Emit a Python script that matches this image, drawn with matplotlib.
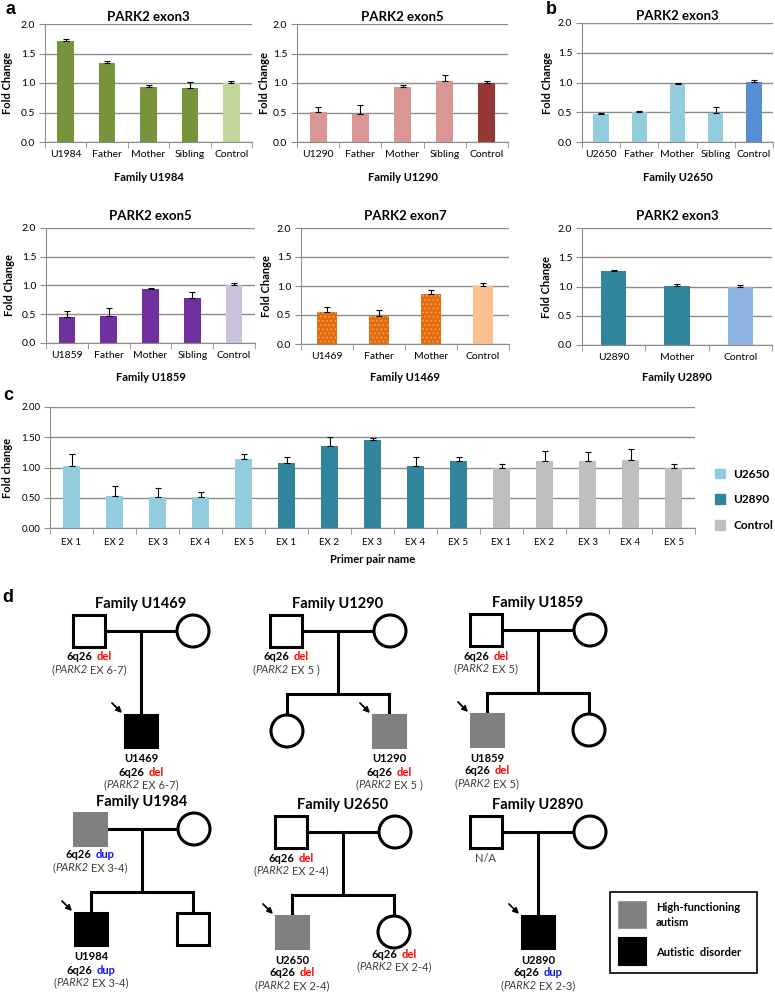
import numpy as np
import matplotlib
matplotlib.use('Agg')
import matplotlib.pyplot as plt
from matplotlib.patches import Rectangle, Circle, Patch
from matplotlib.offsetbox import TextArea, HPacker, AnnotationBbox
from matplotlib.ticker import FormatStrFormatter

plt.rcParams['font.family'] = ['Lato', 'DejaVu Sans']
plt.rcParams['hatch.linewidth'] = 0.6

# ---- data: qPCR fold change (bar value, upper error) ----
u1984_cats = ['U1984', 'Father', 'Mother', 'Sibling', 'Control']
u1984_vals = [1.71, 1.34, 0.93, 0.92, 1.00]
u1984_err = [0.03, 0.03, 0.03, 0.10, 0.04]

u1290_cats = ['U1290', 'Father', 'Mother', 'Sibling', 'Control']
u1290_vals = [0.51, 0.47, 0.94, 1.03, 1.00]
u1290_err = [0.09, 0.15, 0.02, 0.11, 0.04]

u2650_cats = ['U2650', 'Father', 'Mother', 'Sibling', 'Control']
u2650_vals = [0.47, 0.50, 0.97, 0.49, 1.01]
u2650_err = [0.02, 0.02, 0.02, 0.09, 0.04]

u1859_cats = ['U1859', 'Father', 'Mother', 'Sibling', 'Control']
u1859_vals = [0.46, 0.47, 0.94, 0.79, 1.01]
u1859_err = [0.09, 0.14, 0.02, 0.10, 0.03]

u1469_cats = ['U1469', 'Father', 'Mother', 'Control']
u1469_vals = [0.55, 0.49, 0.86, 1.00]
u1469_err = [0.08, 0.09, 0.07, 0.06]

u2890_cats = ['U2890', 'Mother', 'Control']
u2890_vals = [1.26, 1.01, 1.00]
u2890_err = [0.03, 0.03, 0.02]

# panel c: exons 1-5 for each sample
exon_labels = ['EX 1', 'EX 2', 'EX 3', 'EX 4', 'EX 5']
c_groups = ['U2650', 'U2890', 'Control']
c_u2650 = [1.02, 0.53, 0.52, 0.51, 1.14]
c_u2650_err = [0.20, 0.16, 0.14, 0.09, 0.09]
c_u2890 = [1.08, 1.35, 1.45, 1.02, 1.10]
c_u2890_err = [0.09, 0.16, 0.03, 0.16, 0.08]
c_ctrl = [1.00, 1.11, 1.10, 1.13, 1.00]
c_ctrl_err = [0.06, 0.17, 0.15, 0.17, 0.06]

# ---- figure in pixel units ----
W, H = 775, 992
fig = plt.figure(figsize=(W / 100, H / 100), dpi=100)
fig.patch.set_facecolor('white')

ax_d = fig.add_axes([0, 0, 1, 1])
ax_d.set_xlim(0, W)
ax_d.set_ylim(H, 0)
ax_d.axis('off')

GRID = '#8c8c8c'


def bar_panel(x0, x1, top, bottom, title, cats, vals, errs, colors, family,
              title_pad, ylab_x, xlab_y, hatch_n=0):
    ax = fig.add_axes([x0 / W, 1 - bottom / H, (x1 - x0) / W, (bottom - top) / H])
    x = np.arange(len(cats))
    ax.bar(x, vals, 0.4, color=colors, zorder=2)
    if hatch_n:
        ax.bar(x[:hatch_n], vals[:hatch_n], 0.4, facecolor='none',
               edgecolor='#f4a86e', hatch='....', lw=0, zorder=2)
    ax.errorbar(x, vals, yerr=[np.zeros(len(vals)), errs], fmt='none',
                ecolor='black', elinewidth=0.8, capsize=2.5, capthick=0.8, zorder=3)
    ax.set_xlim(-0.5, len(cats) - 0.5)
    ax.set_ylim(0, 2)
    ax.set_yticks(np.arange(0, 2.01, 0.5))
    ax.yaxis.set_major_formatter(FormatStrFormatter('%.1f'))
    ax.set_xticks(x)
    ax.set_xticklabels(cats)
    ax.set_xticks(np.arange(-0.5, len(cats)), minor=True)
    ax.tick_params(axis='x', which='major', length=0, labelsize=7.5, pad=6)
    ax.tick_params(axis='x', which='minor', length=4, color=GRID)
    ax.tick_params(axis='y', length=4, color=GRID, labelsize=7.5, pad=3)
    ax.grid(axis='y', color=GRID, lw=1.0)
    ax.set_axisbelow(True)
    for s in ('top', 'right'):
        ax.spines[s].set_visible(False)
    for s in ('left', 'bottom'):
        ax.spines[s].set_color(GRID)
    ax.set_title(title, fontsize=9.5, fontweight='bold', pad=title_pad)
    ax.set_ylabel('Fold Change', fontsize=8, fontweight='bold')
    ax.yaxis.set_label_coords((ylab_x - x0) / (x1 - x0), 0.5)
    ax.set_xlabel(family, fontsize=8, fontweight='bold')
    ax.xaxis.set_label_coords(0.5, -(xlab_y - bottom) / (bottom - top))
    return ax


def fam_colors(n, main, ctrl):
    return [main] * (n - 1) + [ctrl]


bar_panel(45, 252, 24, 142, 'PARK2 exon3', u1984_cats, u1984_vals, u1984_err,
          fam_colors(5, '#77933c', '#c3d69b'), 'Family U1984', 2.5, 13, 172)
bar_panel(297, 508, 24, 142, 'PARK2 exon5', u1290_cats, u1290_vals, u1290_err,
          fam_colors(5, '#d99694', '#953735'), 'Family U1290', 2.5, 270, 172)
bar_panel(582, 773, 23, 142, 'PARK2 exon3', u2650_cats, u2650_vals, u2650_err,
          fam_colors(5, '#93cddd', '#558ed5'), 'Family U2650', 2.5, 553, 172)
bar_panel(46, 255, 228, 343, 'PARK2 exon5', u1859_cats, u1859_vals, u1859_err,
          fam_colors(5, '#7030a0', '#ccc1da'), 'Family U1859', 6, 15, 372)
bar_panel(301, 509, 228, 344, 'PARK2 exon7', u1469_cats, u1469_vals, u1469_err,
          fam_colors(4, '#e46c0a', '#fac090'), 'Family U1469', 6, 272, 372, hatch_n=3)
bar_panel(582, 772, 228, 345, 'PARK2 exon3', u2890_cats, u2890_vals, u2890_err,
          fam_colors(3, '#31859c', '#8eb4e3'), 'Family U2890', 6, 552, 372)

# ---- panel c ----
x0, x1, top, bottom = 50, 695, 407, 528
ax_c = fig.add_axes([x0 / W, 1 - bottom / H, (x1 - x0) / W, (bottom - top) / H])
c_vals = [c_u2650, c_u2890, c_ctrl]
c_errs = [c_u2650_err, c_u2890_err, c_ctrl_err]
c_cols = ['#93cddd', '#31859c', '#bfbfbf']
for i in range(3):
    xi = np.arange(5) + 5 * i
    ax_c.bar(xi, c_vals[i], 0.4, color=c_cols[i], label=c_groups[i], zorder=2)
    ax_c.errorbar(xi, c_vals[i], yerr=[np.zeros(5), c_errs[i]], fmt='none',
                  ecolor='black', elinewidth=0.8, capsize=2.5, capthick=0.8, zorder=3)
ax_c.set_xlim(-0.5, 14.5)
ax_c.set_ylim(0, 2)
ax_c.set_yticks(np.arange(0, 2.01, 0.5))
ax_c.yaxis.set_major_formatter(FormatStrFormatter('%.2f'))
ax_c.set_xticks(np.arange(15))
ax_c.set_xticklabels(exon_labels * 3)
ax_c.set_xticks(np.arange(-0.5, 15), minor=True)
ax_c.tick_params(axis='x', which='major', length=0, labelsize=7, pad=7)
ax_c.tick_params(axis='x', which='minor', length=4, color=GRID)
ax_c.tick_params(axis='y', length=4, color=GRID, labelsize=7, pad=3)
ax_c.grid(axis='y', color=GRID, lw=1.0)
ax_c.set_axisbelow(True)
for s in ('top', 'right'):
    ax_c.spines[s].set_visible(False)
for s in ('left', 'bottom'):
    ax_c.spines[s].set_color(GRID)
ax_c.set_ylabel('Fold change', fontsize=8, fontweight='bold')
ax_c.yaxis.set_label_coords((13 - x0) / (x1 - x0), 0.5)
ax_c.set_xlabel('Primer pair name', fontsize=8, fontweight='bold')
ax_c.xaxis.set_label_coords(0.5, -(554 - bottom) / (bottom - top))
handles = [Patch(color=c) for c in c_cols]
fig.legend(handles, c_groups, loc='upper left', bbox_to_anchor=(704 / W, 1 - 458 / H),
           frameon=False, handlelength=0.9, handleheight=0.9, labelspacing=1.25,
           handletextpad=0.7, prop=dict(weight='bold', size=8.5))

# ---- panel letters ----
for lab, lx, ly in [('a', 11, 10), ('b', 551, 10), ('c', 8, 396), ('d', 8, 598)]:
    ax_d.text(lx, ly, lab, fontsize=13, fontweight='bold', ha='center', va='center',
              family='Liberation Sans')

# ---- panel d: pedigrees ----
LW = 2.2
RED, BLUE, TXT = '#ff0000', '#1010ff', '#404040'
FILL = {'u': 'white', 'hfa': '#808080', 'ad': 'black'}
FS = 8


def person(x, y, sex, status):
    edge = '#808080' if status == 'hfa' else 'black'
    if sex == 'm':
        p = Rectangle((x - 16, y - 16), 32, 32, fc=FILL[status], ec=edge, lw=LW, zorder=3)
    else:
        p = Circle((x, y), 16, fc=FILL[status], ec=edge, lw=LW, zorder=3)
    ax_d.add_patch(p)


def line(xs, ys):
    ax_d.plot(xs, ys, color='black', lw=LW, solid_capstyle='projecting', zorder=2)


def rich(x, y, groups, sep, size=FS):
    boxes = []
    for g in groups:
        tas = [TextArea(t, textprops=dict(color=c, fontweight=w, fontstyle=s, fontsize=size))
               for t, c, w, s in g]
        boxes.append(HPacker(children=tas, align='baseline', pad=0, sep=0))
    box = HPacker(children=boxes, align='baseline', pad=0, sep=sep)
    ax_d.add_artist(AnnotationBbox(box, (x, y), xycoords='data', frameon=False,
                                   box_alignment=(0.5, 0.5), pad=0))


def cnv_label(x, y, cnv):
    if cnv == 'N/A':
        ax_d.text(x, y, 'N/A', fontsize=FS, color=TXT, ha='center', va='center')
        return
    kind, exons = cnv
    rich(x, y, [[('6q26', 'black', 'bold', 'normal')],
                [(kind, RED if kind == 'del' else BLUE, 'bold', 'normal')]], sep=3.0)
    rich(x, y + 12.5, [[('(', TXT, 'normal', 'normal'), ('PARK2', TXT, 'normal', 'italic')],
                       [(exons + ')', TXT, 'normal', 'normal')]], sep=2.0)


# name, father x, parents y, father status, father CNV, children (sex, status, id, CNV)
pedigrees = [
    ('Family U1469', 89, 631, 'u', ('del', 'EX 6-7'),
     [('m', 'ad', 'U1469', ('del', 'EX 6-7'))]),
    ('Family U1290', 286, 631, 'u', ('del', 'EX 5 '),
     [('f', 'u', None, None), ('m', 'hfa', 'U1290', ('del', 'EX 5 '))]),
    ('Family U1859', 486, 630, 'u', ('del', 'EX 5'),
     [('m', 'hfa', 'U1859', ('del', 'EX 5')), ('f', 'u', None, None)]),
    ('Family U1984', 90, 829, 'hfa', ('dup', 'EX 3-4'),
     [('m', 'ad', 'U1984', ('dup', 'EX 3-4')), ('m', 'u', None, None)]),
    ('Family U2650', 291, 832, 'u', ('del', 'EX 2-4'),
     [('m', 'hfa', 'U2650', ('del', 'EX 2-4')), ('f', 'u', None, ('del', 'EX 2-4'))]),
    ('Family U2890', 486, 832, 'u', 'N/A',
     [('m', 'ad', 'U2890', ('dup', 'EX 2-3'))]),
]

for name, fx, py, fstat, fcnv, kids in pedigrees:
    mx, dx = fx + 104, fx + 52
    ax_d.text(dx, py - 27, name, fontsize=10.5, fontweight='bold', ha='center', va='center')
    person(fx, py, 'm', fstat)
    person(mx, py, 'f', 'u')
    line([fx + 16, mx - 16], [py, py])
    cnv_label(fx, py + 26, fcnv)
    ky = py + 100
    if len(kids) == 1:
        kxs = [dx]
        line([dx, dx], [py, ky - 16])
    else:
        kxs = [fx + 1, fx + 103]
        sy = py + 63
        line([dx, dx], [py, sy])
        line(kxs, [sy, sy])
        for kx in kxs:
            line([kx, kx], [sy, ky - 16])
    for kx, (sex, stat, kid, cnv) in zip(kxs, kids):
        person(kx, ky, sex, stat)
        if kid:
            ax_d.annotate('', xy=(kx - 19, ky - 18), xytext=(kx - 29, ky - 28),
                          arrowprops=dict(arrowstyle='-|>', color='black', lw=1.3,
                                          mutation_scale=8, shrinkA=0, shrinkB=0))
            ax_d.text(kx, ky + 28, kid, fontsize=FS, fontweight='bold',
                      ha='center', va='center')
            cnv_label(kx, ky + 41, cnv)
        elif cnv:
            cnv_label(kx, ky + 22, cnv)

# legend box
ax_d.add_patch(Rectangle((610, 892), 147, 81, fc='white', ec='black', lw=1.2, zorder=2))
ax_d.add_patch(Rectangle((618, 901), 28, 27, fc='#808080', ec='#999999', lw=0.8, zorder=3))
ax_d.add_patch(Rectangle((618, 937), 28, 28, fc='black', ec='black', lw=0.8, zorder=3))
ax_d.text(656, 915, 'High-functioning\nautism', fontsize=8, fontweight='bold',
          ha='left', va='center', linespacing=1.35)
ax_d.text(656, 952, 'Autistic  disorder', fontsize=8, fontweight='bold',
          ha='left', va='center')

fig.savefig('out.png', dpi=100, facecolor='white')
